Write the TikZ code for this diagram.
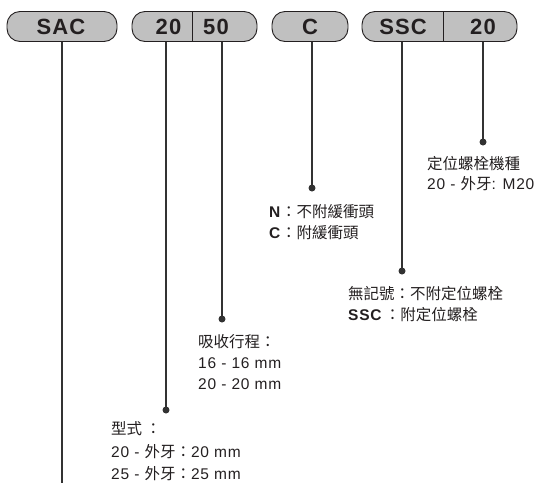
\documentclass[tikz,border=0pt]{standalone}
\usepackage{fontspec}
\setmainfont{Liberation Sans}[LetterSpace=5]
\newfontfamily\cjk{Noto Sans CJK TC}
\newcommand\zh[1]{{\cjk #1}}
\definecolor{boxgray}{RGB}{192,192,192}
\definecolor{txtdark}{RGB}{35,31,32}
\definecolor{linegray}{RGB}{50,50,50}
\tikzset{
  pill/.style={draw=txtdark, line width=0.9pt, fill=boxgray, rounded corners=13pt, minimum height=30pt, inner sep=0pt},
  boxtxt/.style={font=\fontsize{22}{22}\selectfont\bfseries, text=txtdark, inner sep=0pt, anchor=center},
  divider/.style={draw=txtdark, line width=0.9pt},
  lead/.style={draw=linegray, line width=1.3pt},
  dot/.style={circle, fill=linegray, inner sep=0pt, minimum size=7pt},
  lbl/.style={font=\fontsize{15.5}{18}\selectfont, text=txtdark, anchor=base west, inner sep=0pt},
}
\begin{document}
\begin{tikzpicture}[x=1pt,y=-1pt]
\useasboundingbox (0,0) rectangle (539,483);
% boxes
\node[pill, minimum width=110pt] (sac) at (62,26.5) {};
\node[pill, minimum width=125pt] (bs) at (194.5,26.5) {};
\node[pill, minimum width=76pt] (bc) at (310,26.5) {};
\node[pill, minimum width=155pt] (bssc) at (439.5,26.5) {};
\coordinate (div1) at (192,0);
\coordinate (div2) at (443,0);
\draw[divider] (bs.north -| div1) -- (bs.south -| div1);
\draw[divider] (bssc.north -| div2) -- (bssc.south -| div2);
\node[boxtxt] (tsac) at (61,26.5) {SAC};
\node[boxtxt] (t20) at (168.5,26.5) {20};
\node[boxtxt] (t50) at (216,26.5) {50};
\node[boxtxt] (tc) at (310,26.5) {C};
\node[boxtxt] (tssc) at (403,26.5) {SSC};
\node[boxtxt] (tb20) at (483,26.5) {20};
% lead lines
\coordinate (x20) at (166,0);
\coordinate (x50) at (222,0);
\coordinate (xc) at (312,0);
\coordinate (xssc) at (402,0);
\coordinate (xb20) at (483,0);
\coordinate (sacend) at (62,483);
\node[dot] (d20) at (166,410) {};
\node[dot] (d50) at (222,319) {};
\node[dot] (dc) at (312,188) {};
\node[dot] (dssc) at (402,271) {};
\node[dot] (db20) at (483,142) {};
\draw[lead] (sac.south) -- (sacend);
\draw[lead] (bs.south -| x20) -- (d20.center);
\draw[lead] (bs.south -| x50) -- (d50.center);
\draw[lead] (bc.south -| xc) -- (dc.center);
\draw[lead] (bssc.south -| xssc) -- (dssc.center);
\draw[lead] (bssc.south -| xb20) -- (db20.center);
% labels
\node[lbl] (l1a) at (427,169.5) {\zh{定位螺栓機種}};
\node[lbl] (l1b) at (427,189) {20 - \zh{外牙}: M20};
\node[lbl] (l2a) at (269,217.5) {\textbf{N}\zh{：不附緩衝頭}};
\node[lbl] (l2b) at (269,238) {\textbf{C}\zh{：附緩衝頭}};
\node[lbl] (l3a) at (348,299) {\zh{無記號：不附定位螺栓}};
\node[lbl] (l3b) at (348,320) {\textbf{SSC}\,\zh{：附定位螺栓}};
\node[lbl] (l4a) at (198,347.5) {\zh{吸收行程：}};
\node[lbl] (l4b) at (198,368.5) {16 - 16 mm};
\node[lbl] (l4c) at (198,389) {20 - 20 mm};
\node[lbl] (l5a) at (111,434.5) {\zh{型式 ：}};
\node[lbl] (l5b) at (111,457) {20 - \zh{外牙：}20 mm};
\node[lbl] (l5c) at (111,479) {25 - \zh{外牙：}25 mm};
\end{tikzpicture}
\end{document}
